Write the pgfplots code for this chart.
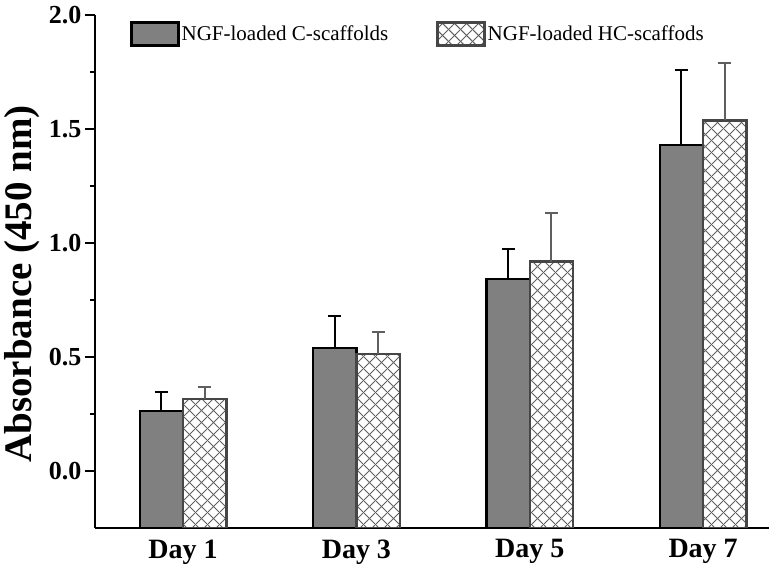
\documentclass[border=0pt]{standalone}
\usepackage{fontspec}
\setmainfont{Liberation Serif}
\usepackage{pgfplots}
\pgfplotsset{compat=1.18}
\usetikzlibrary{patterns.meta}
\usepackage{pgfplotstable}

\definecolor{barA}{RGB}{128,128,128}
\definecolor{edgeB}{RGB}{70,70,70}
\definecolor{hatchB}{RGB}{95,95,95}
\definecolor{errB}{RGB}{95,95,95}

\tikzdeclarepattern{
  name=xhatch,
  type=uncolored,
  bounding box={(0pt,0pt) and (11.5pt,11.5pt)},
  tile size={(11.5pt,11.5pt)},
  code={
    \draw[line width=1pt] (-1pt,-1pt) -- (12.5pt,12.5pt);
    \draw[line width=1pt] (-1pt,12.5pt) -- (12.5pt,-1pt);
  }
}

% day, mean, upper error
\pgfplotstableread{
x  y     e
0  0.264 0.081
1  0.539 0.141
2  0.841 0.133
3  1.430 0.327
}\cscaf
\pgfplotstableread{
x  y     e
0  0.316 0.054
1  0.513 0.097
2  0.918 0.212
3  1.538 0.253
}\hcscaf

\begin{document}
\begin{tikzpicture}
\begin{axis}[
  scale only axis,
  width=674pt, height=513pt,
  xmin=-0.508, xmax=3.38,
  ymin=0, ymax=2.25,
  y filter/.expression={y+0.25},
  axis x line=bottom, axis y line=left,
  axis line style={-, line width=2.2pt},
  xtick={0,1,2,3},
  xticklabels={Day 1, Day 3, Day 5, Day 7},
  x tick style={draw=none},
  xticklabel style={font=\fontsize{28}{32}\selectfont\bfseries, yshift=2pt},
  ytick={0.25,0.75,1.25,1.75,2.25},
  yticklabels={0.0,0.5,1.0,1.5,2.0},
  minor ytick={0.5,1.0,1.5,2.0},
  yticklabel style={font=\fontsize{26}{30}\selectfont\bfseries},
  tick align=outside,
  major tick length=10pt, minor tick length=5pt,
  y tick style={line width=2pt, black},
  ylabel={Absorbance (450 nm)},
  ylabel style={font=\fontsize{39}{44}\selectfont\bfseries,
    at={(axis description cs:-0.108,0.476)}, anchor=center},
  bar width=0.25,
  legend columns=2,
  legend style={draw=none, fill=none, at={(0.052,0.988)}, anchor=north west,
    font=\fontsize{21}{24}\selectfont, inner sep=0pt,
    /tikz/every even column/.append style={column sep=46pt}},
  legend image code/.code={\draw[#1] (0pt,-11.5pt) rectangle (47pt,11.5pt);},
]
\addplot[ybar, bar shift=0, fill=barA, draw=black, line width=2.4pt,
  error bars/.cd, y dir=plus, y explicit,
  error bar style={line width=2pt, black},
  error mark options={rotate=90, mark size=6.5pt, line width=2pt, black}]
  table[x expr=\thisrow{x}-0.125, y=y, y error=e] {\cscaf};
\addlegendentry{NGF-loaded C-scaffolds}
\addplot[ybar, bar shift=0, pattern={xhatch}, pattern color=hatchB, draw=edgeB, line width=2.4pt,
  error bars/.cd, y dir=plus, y explicit,
  error bar style={line width=2pt, errB},
  error mark options={rotate=90, mark size=6.5pt, line width=2pt, errB}]
  table[x expr=\thisrow{x}+0.125, y=y, y error=e] {\hcscaf};
\addlegendentry{NGF-loaded HC-scaffods}
\end{axis}
\path ([shift={(-95pt,-42pt)}]current axis.south west) rectangle ([shift={(5pt,15pt)}]current axis.north east);
\end{tikzpicture}
\end{document}
